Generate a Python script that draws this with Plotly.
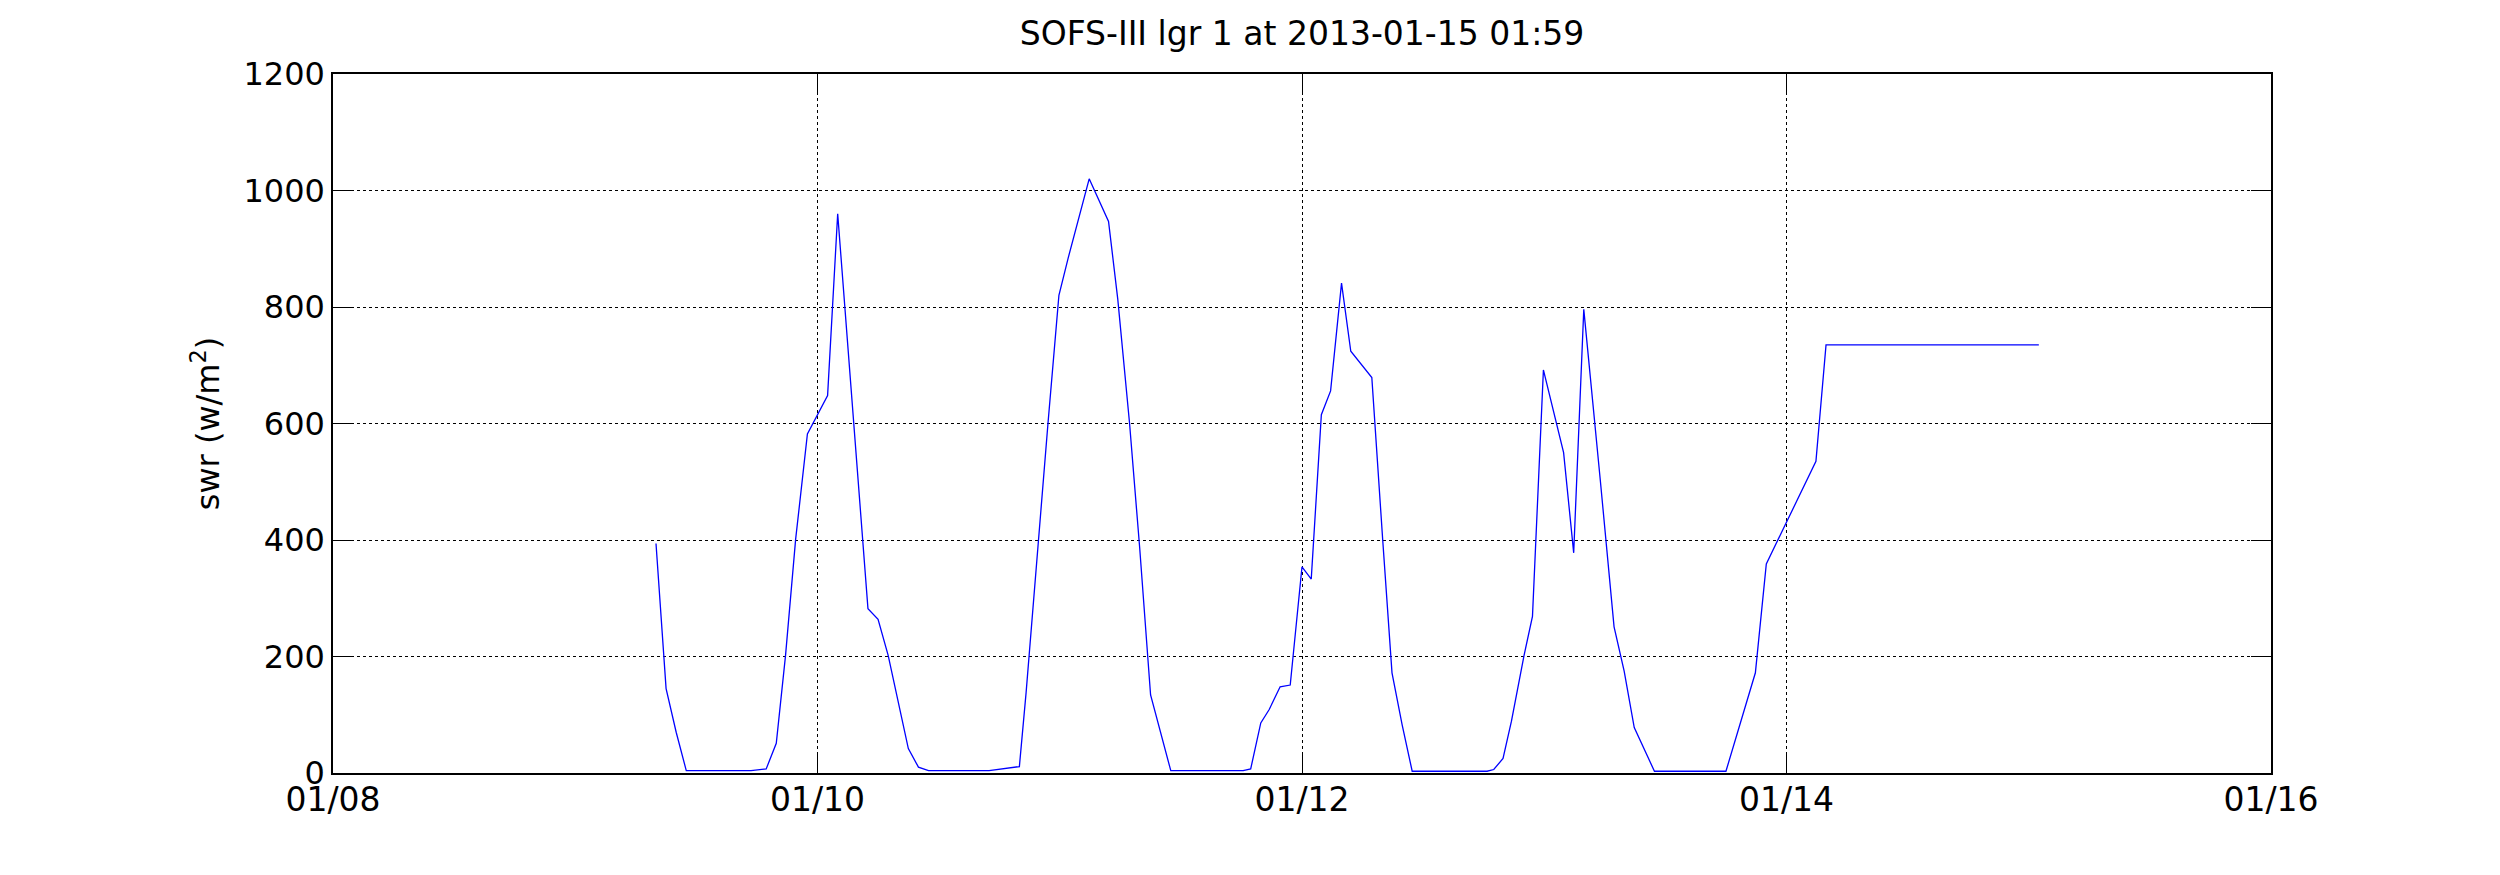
import plotly.graph_objects as go

times = [
    "2013-01-09 08:00", "2013-01-09 09:00", "2013-01-09 10:00", "2013-01-09 11:00",
    "2013-01-09 17:25", "2013-01-09 18:55", "2013-01-09 19:55", "2013-01-09 20:50",
    "2013-01-09 21:50", "2013-01-09 23:00", "2013-01-10 01:00", "2013-01-10 02:00",
    "2013-01-10 05:00", "2013-01-10 06:00", "2013-01-10 07:00", "2013-01-10 09:00",
    "2013-01-10 10:00", "2013-01-10 11:00", "2013-01-10 17:00", "2013-01-10 20:00",
    "2013-01-10 20:40", "2013-01-10 21:50", "2013-01-10 22:50", "2013-01-10 23:55",
    "2013-01-11 00:50", "2013-01-11 02:55", "2013-01-11 04:50", "2013-01-11 05:45",
    "2013-01-11 06:55", "2013-01-11 07:55", "2013-01-11 09:00", "2013-01-11 11:00",
    "2013-01-11 18:10", "2013-01-11 18:55", "2013-01-11 19:55", "2013-01-11 20:45",
    "2013-01-11 21:50", "2013-01-11 22:50", "2013-01-12 00:00", "2013-01-12 00:55",
    "2013-01-12 01:55", "2013-01-12 02:50", "2013-01-12 03:55", "2013-01-12 04:50",
    "2013-01-12 06:55", "2013-01-12 08:00", "2013-01-12 08:55", "2013-01-12 09:55",
    "2013-01-12 10:55", "2013-01-12 18:20", "2013-01-12 19:00", "2013-01-12 19:55",
    "2013-01-12 20:45", "2013-01-12 22:00", "2013-01-12 22:50", "2013-01-12 23:55",
    "2013-01-13 01:55", "2013-01-13 02:55", "2013-01-13 03:55", "2013-01-13 05:35",
    "2013-01-13 06:55", "2013-01-13 07:55", "2013-01-13 08:55", "2013-01-13 10:55",
    "2013-01-13 18:00", "2013-01-13 20:55", "2013-01-13 22:00", "2013-01-14 02:55",
    "2013-01-14 03:55", "2013-01-15 01:00",
]
swr = [
    394, 145, 70, 4,
    4, 7, 51, 202,
    401, 582, 648, 960,
    282, 264, 202, 42,
    10, 4, 4, 11,
    138, 394, 600, 820,
    884, 1020, 947, 813,
    600, 387, 134, 4,
    4, 7, 86, 109,
    148, 151, 354, 333,
    615, 656, 841, 724,
    679, 399, 172, 83,
    3, 3, 6, 25,
    89, 202, 269, 692,
    550, 378, 796, 497,
    251, 175, 78, 3,
    3, 172, 359, 535,
    735, 735,
]

x_range = ["2013-01-08", "2013-01-16"]
y_range = [0, 1200]
title_text = "SOFS-III lgr 1 at 2013-01-15 01:59"
y_title = "swr (w/m<sup>2</sup>)"

FONT = "DejaVu Sans"

fig = go.Figure()
fig.add_trace(go.Scatter(x=times, y=swr, mode="lines",
                         line=dict(color="#0000ff", width=1.3),
                         showlegend=False))

fig.update_layout(
    width=2500, height=875,
    margin=dict(l=325, r=237, t=66, b=110),
    paper_bgcolor="white", plot_bgcolor="white",
    font=dict(family=FONT, size=32, color="black"),
    title=dict(text=title_text, x=0.5, xref="paper", y=1 - 25 / 875,
               yref="container", xanchor="center", yanchor="middle",
               font=dict(family=FONT, size=33, color="black")),
)
fig.update_xaxes(
    type="date", range=x_range, dtick=2 * 86400000, tick0="2013-01-08",
    tickformat="%m/%d", showgrid=True, gridcolor="black", griddash="dot",
    gridwidth=1, showline=True, linecolor="black", linewidth=1.5,
    mirror="ticks", ticks="inside", ticklen=20, tickcolor="black", tickwidth=1,
    tickfont=dict(family=FONT, size=33, color="black"), zeroline=False,
    ticklabelstandoff=-3,
)
fig.update_yaxes(
    range=y_range, dtick=200, showgrid=True, gridcolor="black", griddash="dot",
    gridwidth=1, showline=True, linecolor="black", linewidth=1.5,
    mirror="ticks", ticks="inside", ticklen=20, tickcolor="black", tickwidth=1,
    tickfont=dict(family=FONT, size=32, color="black"), zeroline=False,
    title=dict(text=y_title, standoff=14, font=dict(family=FONT, size=32, color="black")),
)

fig.write_html("out.html")
